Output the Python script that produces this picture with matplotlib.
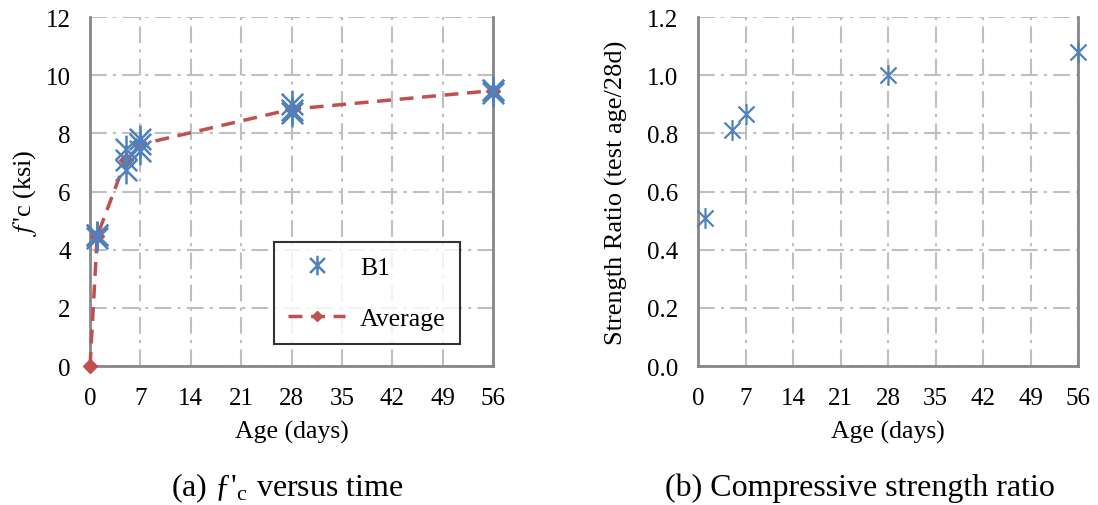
import numpy as np
import matplotlib.pyplot as plt
from matplotlib.path import Path

plt.rcParams['font.family'] = ['Liberation Serif', 'DejaVu Serif']
plt.rcParams['mathtext.fontset'] = 'stix'

# data
age_b1 = [1, 1, 1, 5, 5, 5, 7, 7, 7, 28, 28, 28, 56, 56, 56]
fc_b1 = [4.4, 4.5, 4.5, 7.45, 7.1, 6.75, 7.8, 7.65, 7.4, 9.0, 8.8, 8.7, 9.5, 9.4, 9.5]
age_avg = [0, 1, 5, 7, 28, 56]
fc_avg = [0, 4.47, 7.1, 7.62, 8.83, 9.47]
age_ratio = [1, 5, 7, 28, 56]
ratio = [0.51, 0.81, 0.865, 1.0, 1.08]

xticks = np.arange(0, 57, 7)
blue = '#4F81BD'
red = '#C0504D'
grid_c = '#BFBFBF'
spine_c = '#878787'

# excel-like star marker: X with a vertical bar
star = Path([(-1, -1), (1, 1), (-1, 1), (1, -1), (0, -1.3), (0, 1.3)],
            [Path.MOVETO, Path.LINETO, Path.MOVETO, Path.LINETO, Path.MOVETO, Path.LINETO])

fig = plt.figure(figsize=(10.98, 5.06), dpi=100)
ax1 = fig.add_axes([0.082, 0.2747, 0.367, 0.6897])
ax2 = fig.add_axes([0.6357, 0.2747, 0.3461, 0.6897])


def style(ax, ymax, ystep, fmt):
    ax.set_xlim(0, 56)
    ax.set_ylim(0, ymax)
    ax.set_xticks(xticks)
    ax.set_yticks(np.arange(0, ymax + ystep / 2, ystep))
    ax.set_yticklabels([fmt.format(v) for v in np.arange(0, ymax + ystep / 2, ystep)])
    ax.grid(True, color=grid_c, linestyle=(0, (8, 3, 1.5, 3)), linewidth=1.5)
    ax.set_axisbelow(True)
    ax.tick_params(length=0, labelsize=18)
    ax.tick_params(axis='x', pad=15)
    ax.tick_params(axis='y', pad=14)
    ax.spines['top'].set_visible(False)
    for s in ['left', 'bottom', 'right']:
        ax.spines[s].set_color(spine_c)
        ax.spines[s].set_linewidth(2)
    ax.set_xlabel('Age (days)', fontsize=18.5, labelpad=8)


style(ax1, 12, 2, '{:.0f}')
style(ax2, 1.2, 0.2, '{:.1f}')

ax1.plot(age_avg, fc_avg, color=red, linestyle=(0, (4, 2.5)), linewidth=2.5,
         marker='D', markersize=7, label='Average', zorder=3, clip_on=False)
ax1.plot(age_b1, fc_b1, linestyle='none', marker=star, markersize=20, markeredgewidth=1.8,
         color=blue, label='B1', zorder=4, clip_on=False)
ax1.set_ylabel("$\\mathit{f}\\,$'c (ksi)", fontsize=19, labelpad=5)

h, l = ax1.get_legend_handles_labels()
leg = ax1.legend(h[::-1], l[::-1], loc='lower right', bbox_to_anchor=(0.918, 0.063),
                 fontsize=18.5, frameon=True, fancybox=False, edgecolor='black',
                 handlelength=2.2, borderpad=0.55, labelspacing=1.1, handletextpad=0.6,
                 borderaxespad=0, markerscale=0.7)
leg.get_frame().set_linewidth(1.5)

ax2.plot(age_ratio, ratio, linestyle='none', marker=star, markersize=15, markeredgewidth=1.6,
         color=blue, clip_on=False, zorder=4)
ax2.set_ylabel('Strength Ratio (test age/28d)', fontsize=19, labelpad=14)

fig.text(0.262, 0.036, "(a) ƒ'$_\\mathregular{c}$ versus time", fontsize=23, ha='center', va='center')
fig.text(0.783, 0.036, '(b) Compressive strength ratio', fontsize=23, ha='center', va='center')

fig.savefig('out.png', dpi=100)
